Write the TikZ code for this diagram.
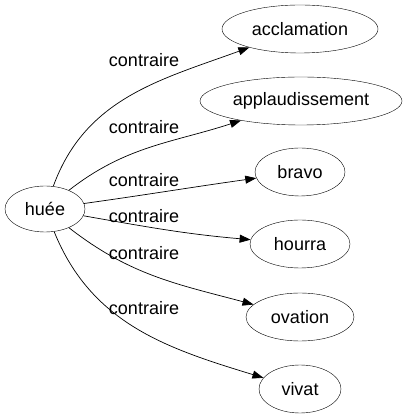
\documentclass[tikz,border=0pt]{standalone}
\usepackage{fontspec}
\setmainfont{Liberation Sans}
\usetikzlibrary{arrows.meta,positioning,shapes.geometric}

\begin{document}
\begin{tikzpicture}[x=1pt,y=1pt,
  mot/.style={draw,ellipse,inner sep=0pt,minimum height=48pt,font=\fontsize{18}{20}\selectfont},
  lien/.style={-{Triangle[length=11pt,width=8pt]},line width=0.7pt},
  lbl/.style={font=\fontsize{18}{20}\selectfont,inner sep=0pt}]
\useasboundingbox (0,0) rectangle (406,419);
\node[mot,minimum width=80pt,minimum height=46pt] (huee) at (45,210) {huée};
\node[mot,minimum width=156pt] (acclamation) at (300,390) {acclamation};
\node[mot,minimum width=202pt] (applaudissement) at (301,318) {applaudissement};
\node[mot,minimum width=90pt] (bravo) at (300,247) {bravo};
\node[mot,minimum width=100pt] (hourra) at (300,175) {hourra};
\node[mot,minimum width=108pt] (ovation) at (300,102) {ovation};
\node[mot,minimum width=82pt] (vivat) at (300,30) {vivat};
% les liens
\draw[lien] (huee) to[out=70,in=200] (acclamation);
\draw[lien] (huee) to[out=38,in=198] (applaudissement);
\draw[lien] (huee) to[out=8,in=188] (bravo);
\draw[lien] (huee) to[out=-10,in=175] (hourra);
\draw[lien] (huee) to[out=-38,in=165] (ovation);
\draw[lien] (huee) to[out=-68,in=163] (vivat);
\node[lbl] (l1) at (144,359) {contraire};
\node[lbl] (l2) at (144,292) {contraire};
\node[lbl] (l3) at (144,239) {contraire};
\node[lbl] (l4) at (144,203) {contraire};
\node[lbl] (l5) at (144,166) {contraire};
\node[lbl] (l6) at (144,111) {contraire};
\end{tikzpicture}
\end{document}
